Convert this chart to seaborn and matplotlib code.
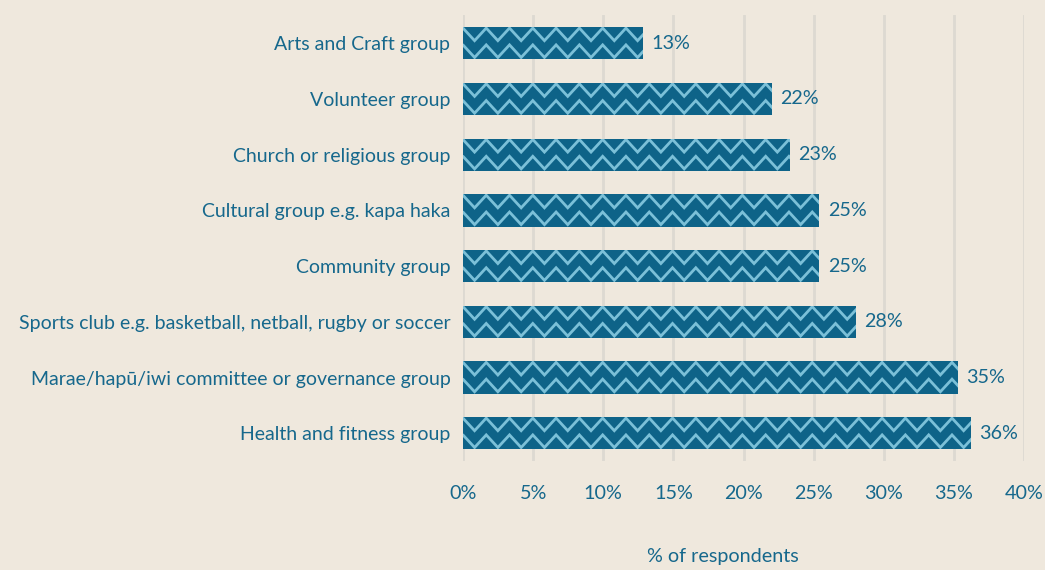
import numpy as np
import pandas as pd
import matplotlib
matplotlib.use("Agg")
import matplotlib.pyplot as plt
from matplotlib.ticker import FuncFormatter, MultipleLocator
import seaborn as sns

groups = [
    "Arts and Craft group",
    "Volunteer group",
    "Church or religious group",
    "Cultural group e.g. kapa haka",
    "Community group",
    "Sports club e.g. basketball, netball, rugby or soccer",
    "Marae/hapū/iwi committee or governance group",
    "Health and fitness group",
]
shares = [12.8, 22.0, 23.3, 25.4, 25.4, 28.0, 35.3, 36.2]

BG = "#EFE8DD"
BAR = "#0E6388"
ZIG = "#7BC0D8"
TXT = "#16688C"
GRID = "#DDD9D1"

sns.set_theme(style="white")
plt.rcParams["font.family"] = ["Lato", "DejaVu Sans"]

df = pd.DataFrame({"group": groups, "share": shares})

fig = plt.figure(figsize=(10.45, 5.7), dpi=100, facecolor=BG)
ax = fig.add_axes([0.443, 0.191, 0.537, 0.782])
ax.set_facecolor(BG)

sns.barplot(data=df, x="share", y="group", color=BAR, width=0.58,
            saturation=1, linewidth=0, edgecolor=BAR, ax=ax, zorder=3)

ax.set_xlim(0, 40)
ax.set_ylim(7.5, -0.5)
ax.xaxis.set_major_locator(MultipleLocator(5))
ax.xaxis.set_major_formatter(FuncFormatter(lambda v, p: f"{v:.0f}%"))
ax.grid(axis="x", color=GRID, linewidth=2, zorder=0)
ax.grid(axis="y", visible=False)
for s in ax.spines.values():
    s.set_visible(False)
ax.tick_params(axis="x", length=0, pad=17, labelsize=14.2, labelcolor=TXT)
ax.tick_params(axis="y", length=0, pad=9, labelsize=14.0, labelcolor=TXT)
ax.set_ylabel("")
ax.set_xlabel("% of respondents", fontsize=14.2, color=TXT)
ax.xaxis.set_label_coords(0.463, -0.195)

# zigzag fill: two rows of zigzag lines per bar, clipped to the bar
period = 1.66
for patch in ax.patches:
    x0, y0 = patch.get_x(), patch.get_y()
    w, h = patch.get_width(), patch.get_height()
    xs = np.arange(x0, x0 + w + period, period / 2)
    amp = h * 0.39
    for top in (y0 + h * 0.03, y0 + h * 0.55):
        ys = np.where(np.arange(len(xs)) % 2 == 0, top, top + amp)
        line, = ax.plot(xs, ys, color=ZIG, linewidth=2, zorder=4,
                        solid_joinstyle="miter")
        line.set_clip_path(patch)
    ax.text(x0 + w + 0.6, y0 + h / 2, f"{round(w):.0f}%", va="center",
            ha="left", fontsize=14.2, color=TXT, zorder=5)

fig.savefig("out.png", dpi=100, facecolor=BG)
